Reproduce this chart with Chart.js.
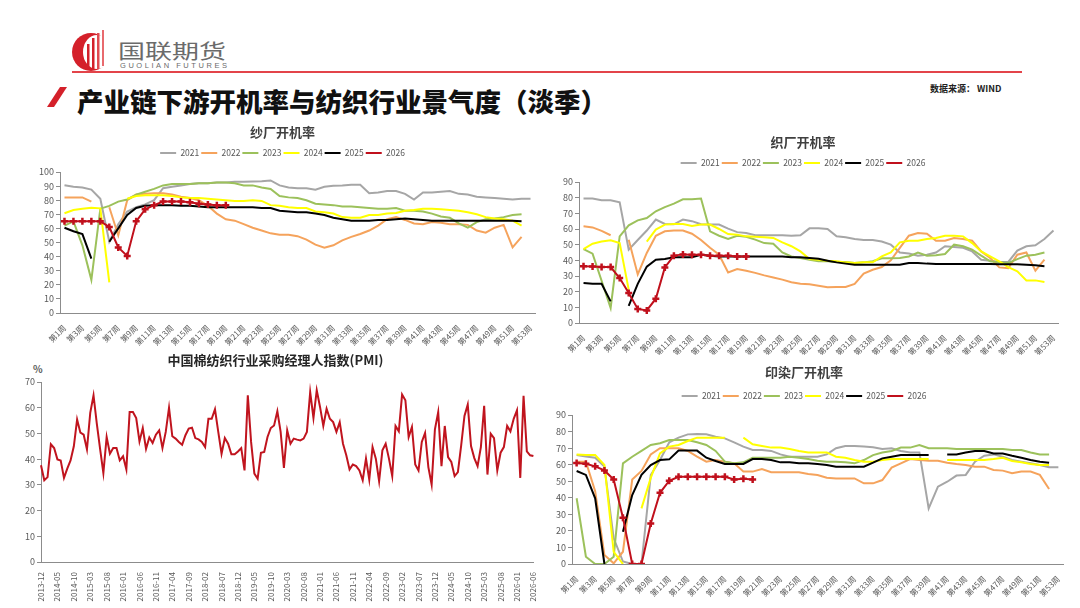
<!DOCTYPE html>
<html>
<head>
<meta charset="utf-8">
<script src="https://cdn.jsdelivr.net/npm/chart.js@4.4.1/dist/chart.umd.min.js"></script>
<style>
body { margin: 0; width: 1080px; height: 608px; background: #fff; position: relative; overflow: hidden;
       font-family: "Noto Sans CJK SC", sans-serif; }
.abs { position: absolute; }
canvas { position: absolute; }
#brand { left: 118px; top: 36px; font-size: 20px; color: #6b6b6b; transform: scaleX(1.35); transform-origin: left top; white-space: nowrap; }
#brandEn { left: 120px; top: 61px; font-size: 7.5px; color: #6b6b6b; letter-spacing: 2.55px; font-family: "Liberation Sans", sans-serif; white-space: nowrap; }
#rule { left: 72px; top: 71px; width: 950px; height: 1.5px; background: #e3444a; }
#title { left: 77px; top: 81px; font-size: 26.5px; font-weight: 900; color: #111; white-space: nowrap; }
#source { left: 930px; top: 82px; font-size: 9px; font-weight: bold; color: #222; white-space: nowrap; }
#pct { left: 33px; top: 361px; font-size: 10px; font-weight: bold; color: #595959; }
</style>
</head>
<body>
<svg class="abs" style="left:70px;top:30px" width="44" height="42" viewBox="0 0 44 42">
  <circle cx="21" cy="22" r="19" fill="#d4202a"/>
  <ellipse cx="27" cy="22" rx="14" ry="17" fill="#fff"/>
  <rect x="17" y="14" width="2.5" height="26" fill="#d4202a"/>
  <rect x="22" y="8" width="2.5" height="32" fill="#d4202a"/>
  <rect x="27" y="3" width="2.5" height="36" fill="#e04a50"/>
  <rect x="32" y="0" width="2" height="36" fill="#e86a6e"/>
</svg>
<div id="brand" class="abs">国联期货</div>
<div id="brandEn" class="abs">GUOLIAN FUTURES</div>
<div id="rule" class="abs"></div>
<svg class="abs" style="left:44px;top:86px" width="26" height="24" viewBox="0 0 26 24">
  <polygon points="16,1 23,1 10,21 3,21" fill="#d4202a"/>
</svg>
<div id="title" class="abs">产业链下游开机率与纺织行业景气度（淡季）</div>
<div id="source" class="abs">数据来源： WIND</div>
<div id="pct" class="abs">%</div>

<canvas id="c1" width="515" height="230" style="left:30px;top:118px"></canvas>
<canvas id="c2" width="520" height="227" style="left:548px;top:128px"></canvas>
<canvas id="c3" width="530" height="256" style="left:15px;top:348px"></canvas>
<canvas id="c4" width="525" height="244" style="left:545px;top:358px"></canvas>

<script>
// 纱厂开机率
var sha2021 = [90.6, 89.5, 89, 87.5, 81, 50.6, 63, 72, 75, 77, 80, 88.5, 89.5, 90.5, 91.5, 92, 92, 92.5, 92.5, 93,
    93, 93.3, 93.5, 94, 90.5, 89, 88.5, 88.5, 87.5, 89.5, 90.3, 90.5, 91, 91, 85, 85.5, 86.5, 86.5, 84.5, 80.5,
    85.5, 85.5, 86, 86.5, 84.5, 84, 82.5, 82, 81.5, 81, 80.5, 81, 81];
var sha2022 = [82, 82, 82, 79, null, 75, 55, 80, 84, 84.5, 85, 85, 84, 82.5, 81.5, 80, 76, 70.5, 66.5, 65.5,
    63, 60.5, 58.5, 56.5, 55.5, 55.5, 54.5, 52, 48.5, 46.3, 48, 51.5, 54, 56, 58.5, 62, 66.5, 68, 66, 63.5,
    63, 64.5, 64, 63, 63, 62.5, 58.5, 57, 60.5, 62.5, 46.5, 54, null];
var sha2023 = [62, 65, 48, 23.5, 74, 76, 79, 80.5, 84, 86, 88, 90.5, 91.5, 91.5, 91.5, 92, 92, 92.5, 92.5, 92,
    90.5, 90.5, 89, 88, 83, 82, 81.5, 80, 77.5, 77, 76.5, 75.5, 75.5, 75, 74.5, 74, 74, 74.5, 72.5, 72.5,
    72, 70.5, 68.5, 67.5, 63.5, 60.5, 64.5, 66.5, 67, 68, 69.5, 70, null];
var sha2024 = [70.7, 73, 74, 74.7, 74.2, 21.7, null, 81, 83, 83.5, 83.5, 83.5, 83, 82, 81.5, 81.5, 81, 80.5, 80, 79.5,
    79.5, 80, 79.5, 76.5, 76, 75, 74.5, 74.5, 72, 71.5, 70.5, 68, 67.5, 67.5, 69.5, 69.5, 70.5, 71, 72.5, 73,
    74, 74, 73.5, 73, 72.5, 71.5, 70, 68, 67, 66.5, 65.5, 62, null];
var sha2025 = [60.5, 58, 56, 38.5, null, 50.5, 60, 69.5, 74.5, 76, 76.5, 76.5, 76.5, 76, 76, 75.5, 75, 75, 75, 75,
    75, 75, 74.5, 74.5, 72.5, 72, 71.5, 71.5, 70.5, 69.5, 67.5, 66.5, 65.5, 65.5, 65.5, 66, 66, 66.5, 67, 66.5,
    66, 65.5, 65.5, 65.5, 65.5, 65.5, 65.5, 65.5, 65.5, 65.5, 65.5, 65, null];
var sha2026 = [65, 65, 65, 65, 65, 61, 46.5, 40.5, 65, 73.5, 76.5, 79, 79, 79, 78.5, 77.5, 77, 76.5, 76.5];

// 织厂开机率
var zhi2021 = [79.4, 79.4, 78.3, 78.3, 77, 46.8, 53, 59, 66, 63.2, 63, 66, 65, 63, 62.8, 62.8, 60.2, 58, 57.4, 56,
    56, 56, 56, 55.7, 56, 60.4, 60.4, 60, 55.3, 54.7, 53.6, 53, 53, 52, 50, 45, 44.3, 43, 43.6, 45,
    49, 48.5, 48, 45.7, 40.4, 39.8, 39, 39, 46.2, 49, 49.6, 53.6, 59];
var zhi2022 = [61.7, 61, 58.8, 56, null, 53.2, 31, 44.7, 55.7, 58.5, 59, 59, 57, 53, 48, 43.6, 32.3, 34.5, 33.4, 32,
    30.4, 29, 27.7, 26, 25, 24.7, 23.8, 22.8, 23, 23, 25, 31.5, 34, 35.7, 40, 48, 55.7, 57.4, 57, 52.5,
    52.5, 54.3, 53.6, 52.5, 45.7, 41.5, 35.5, 35, 43.6, 45, 33.4, 40.4, null];
var zhi2023 = [47.2, 44.3, 27, 9.6, 55.3, 62.3, 65.5, 67, 71.3, 74, 76.2, 79, 79, 79.4, 58.5, 55.7, 53.6, 55.7, 55, 53.2,
    51, 50.6, 45, 42.5, 41.5, 40.4, 39.4, 39.4, 39, 39, 38.3, 38.7, 39.4, 41.3, 41.3, 41.5, 42.5, 45, 43, 43.2,
    44, 50, 49, 46.8, 43, 39.4, 38.7, 38.3, 40.8, 43, 43.6, 45, null];
var zhi2024 = [47.2, 50.6, 52, 52.8, 51, 21.3, null, 52, 59.6, 62.8, 63.2, 63.2, 62, 62.8, 62.8, 60, 56.8, 56.4, 55.3, 55,
    54.7, 54.3, 51.5, 49, 45.7, 40.8, 40.4, 39.8, 39.4, 38.7, 38.3, 38.7, 38.7, 42.5, 45, 51.5, 52.5, 52.5, 53.6, 54.3,
    55.7, 55.7, 55.3, 51, 45.7, 42.5, 39.4, 35.7, 33, 27.2, 27.2, 26.2, null];
var zhi2025 = [25.5, 25, 25, 13.8, null, 11, 25, 36, 40.4, 40.8, 42, 42, 42, 43.6, 43, 42.5, 42.5, 42.5, 42.5, 42.5,
    42.5, 42.5, 42.5, 42, 42, 41.5, 41, 39.8, 38.7, 37.9, 37.2, 37.2, 37.2, 37.2, 37.2, 37.2, 38.3, 38.3, 37.9, 37.7,
    37.7, 37.7, 37.7, 37.7, 37.7, 37.7, 37.5, 37.5, 37.5, 37.2, 36.8, 36.2, null];
var zhi2026 = [36.2, 36, 35.7, 35.7, 28.7, 19.1, 9, 8, 15.5, 35.5, 43, 43.8, 43.6, 43.6, 43, 43, 43, 42.5, 42.5];

// 印染厂开机率
var ran2021 = [65.8, 65, 64.2, 58.8, 15.5, 1.5, 0, 0, 53.7, 62.8, 73.5, 76.3, 78.3, 78.5, 78.3, 76.9, 75.9, 73.5, 70.9, 68.9,
    68.9, 68.3, 66.2, 64.8, 64.8, 64.8, 64.8, 66.2, 69.9, 71.3, 71.3, 70.9, 70.5, 69.5, 69.9, 68.3, 67.4, 67.4, 33.6, 46.7,
    49.7, 53.4, 53.8, 61.8, 65.4, 66.2, 64.8, 62.8, 61.8, 60.8, 59.8, 58.4, 58.4];
var ran2022 = [61.8, 61.8, 44, 5.4, 0.4, 7.4, 51, 56.2, 66.2, 69.9, 69.9, 69.9, 68.3, 64.8, 61.8, 62.8, 61.8, 60.8, 55.8, 55.8,
    57.4, 55.4, 55.4, 55.4, 55.4, 54.4, 53.8, 52.1, 51.7, 51.7, 51.7, 48.7, 48.7, 50.7, 58.2, 60.8, 63.4, 62.8, 62.4, 62.4,
    61.2, 60.4, 59.8, 58.8, 58.8, 56.8, 56.4, 54.8, 55.8, 55.8, 53.8, 45.3, null];
var ran2023 = [39.7, 4.4, 0, 0, 4.4, 60.8, 64.8, 68.3, 71.9, 72.9, 74.9, 74.9, 74.9, 73.5, 71.9, 68.3, 61.8, 60.8, 61.4, 64.2,
    64.2, 64.2, 64.2, 64.8, 64.2, 63.4, 62.4, 61.8, 61.8, 61.4, 60.8, 62.8, 65.8, 67.4, 68.3, 70.3, 70.3, 71.9, 69.9, 69.9,
    69.9, 69.5, 69.5, 69.5, 69.5, 69.5, 69.5, 68.9, 68.9, 67.4, 66.2, 66.2, null];
var ran2024 = [66.2, 65.8, 65.8, 59.8, 7.4, 0, null, 33.6, 52, 66.8, 70.9, 71.9, 74.3, 76.3, 76.3, 76.3, 76.3, null, 76.3, 72.3,
    71.3, 70.3, 70.3, 69.5, 68.3, 67.4, 67.4, 67.4, 64.8, 64.2, 62.8, 61.8, 61.8, 62.8, 63.4, 63.4, 63.4, 63.4, 63.4, null,
    62.8, 62.8, 62.8, 62.8, 62.8, 63.4, 64.2, 62.2, 61.4, 60.4, 59.8, 59.8, null];
var ran2025 = [56.2, 53.8, 39.7, 0, null, 19.5, 41.7, 53.8, 59.8, 62.8, 63.2, 68.5, 68.5, 68.5, 64.2, 62.2, 60.4, 60.4, 60.4, 63.4,
    63.4, 62.8, 61.4, 61.4, 60.8, 60.8, 60.4, 59.8, 58.8, 58.8, 58.8, 58.8, 61.2, 63.8, 64.8, 65.8, 65.8, 65.8, 65.8, null,
    66.2, 66.2, 67.4, 68.3, 68.3, 66.8, 66.8, 65.4, 64.2, 62.8, 61.8, 61.2, null];
var ran2026 = [61, 60.5, 59, 56.5, 51, 28, 0, 0, 24.5, 43, 50.3, 52.7, 52.7, 52.7, 52.7, 52.7, 52.7, 51, 51.5, 51];

// 中国棉纺织行业PMI, 2013-12 起逐月
var pmi = [37.6, 31.8, 33, 45.8, 44.3, 39.9, 39.5, 32.7, 36.3, 39.5,
    45, 55.4, 50.3, 49.5, 43.8, 58, 64.8, 53.8, 44, 34.6,
    48.6, 42.1, 44.3, 44.3, 39.5, 41.1, 36, 58.3, 58.3, 56,
    46.9, 52.1, 44, 48.4, 46.3, 49.5, 51.2, 44.3, 50.6, 60,
    48.9, 48, 46.7, 45.6, 49.3, 51.9, 52.2, 48.2, 47.7, 46.7,
    44.7, 55.7, 55.7, 59.4, 50.6, 42.1, 48.2, 46, 41.9, 41.9,
    43, 44.3, 35.6, 64.8, 46.7, 34.4, 32.4, 42.5, 42.8, 48.6,
    52.1, 53.1, 58.6, 50.6, 36.6, 51.2, 46, 48, 47.6, 47.3,
    48, 50.6, 66.1, 56, 66.8, 60.3, 52.9, 59.6, 55.7, 54.4,
    50.6, 54.4, 46, 41.5, 36, 37.9, 37.3, 35.6, 31.8, 40.2,
    32, 44.7, 40.2, 31.4, 43.4, 46, 40.2, 33.4, 52.9, 50.8,
    65.1, 62.9, 48.6, 52.5, 37.9, 35.6, 46.7, 50.2, 36.9, 30.1,
    51.6, 58.3, 37.3, 52.9, 40.8, 38.9, 33.4, 35, 45.4, 56.8,
    61.2, 45.1, 40.4, 37.3, 44.7, 60.7, 34, 49.9, 48.2, 35.6,
    42.5, 44.7, 52.9, 50.8, 55.7, 59, 32.7, 64.6, 43, 41.5,
    41.2];

var years = ['2021', '2022', '2023', '2024', '2025', '2026'];
var yearColors = ['#a6a6a6', '#f5a35c', '#9cc15b', '#ffff00', '#000000', '#c0101c'];

var weeks = [];
for (var w = 1; w <= 53; w++) weeks.push('第' + w + '周');

var months = [];
var yy = 2013, mm = 12;
while (months.length < pmi.length) {
    months.push(yy + '-' + (mm < 10 ? '0' + mm : mm));
    mm++;
    if (mm > 12) { mm = 1; yy++; }
}

Chart.defaults.font.family = '"Noto Sans CJK SC", "Noto Sans", sans-serif';
Chart.defaults.color = '#595959';

var axisColor = '#8c8c8c';

function legendGap(extra) {
    return {
        id: 'legendGap',
        beforeInit: function (chart) {
            var fit = chart.legend.fit;
            chart.legend.fit = function () {
                fit.call(this);
                this.height += extra;
            };
        }
    };
}

function weekChart(id, title, series, yMax, g) {
    var datasets = series.map(function (data, i) {
        var red = i == 5;
        return {
            label: years[i],
            data: data,
            borderColor: yearColors[i],
            backgroundColor: yearColors[i],
            borderWidth: 2,
            pointRadius: red ? 3.5 : 0,
            pointStyle: 'cross',
            pointBorderWidth: 2.5,
            pointBackgroundColor: yearColors[i],
            // 2026 on top, then 2025 ...
            order: red ? 0 : 6 - i
        };
    });
    return new Chart(document.getElementById(id).getContext('2d'), {
        type: 'line',
        data: { labels: weeks, datasets: datasets },
        options: {
            responsive: false,
            animation: false,
            layout: { padding: { left: 0, right: g.padRight, top: 0, bottom: 0 } },
            plugins: {
                title: {
                    display: true, text: title, color: '#404040',
                    font: { size: 13, weight: 'bold' },
                    padding: { top: g.tTop, bottom: g.tBottom }
                },
                legend: {
                    display: true,
                    labels: {
                        boxWidth: 16, boxHeight: 0, padding: 2, font: { size: 8.5 }, color: '#595959',
                        sort: function (a, b) { return a.datasetIndex - b.datasetIndex; }
                    }
                },
                tooltip: { enabled: false }
            },
            scales: {
                x: {
                    offset: true,
                    grid: { display: false },
                    border: { color: axisColor },
                    ticks: {
                        autoSkip: false, minRotation: 45, maxRotation: 45, padding: 2,
                        font: { size: 8 },
                        callback: function (v, i) { return i % 2 == 0 ? this.getLabelForValue(v) : ''; }
                    },
                    afterFit: function (s) { s.height = g.xHeight; }
                },
                y: {
                    min: 0, max: yMax,
                    grid: { drawOnChartArea: false, tickLength: 4, color: axisColor },
                    border: { color: axisColor },
                    ticks: { stepSize: 10, font: { size: 9 }, padding: 2 },
                    afterFit: function (s) { s.width = g.yWidth; }
                }
            }
        },
        plugins: [legendGap(g.extra)]
    });
}

weekChart('c1', '纱厂开机率', [sha2021, sha2022, sha2023, sha2024, sha2025, sha2026], 100,
    { tTop: 6.2, tBottom: 6.95, extra: 4.75, yWidth: 30, padRight: 10, xHeight: 35 });
weekChart('c2', '织厂开机率', [zhi2021, zhi2022, zhi2023, zhi2024, zhi2025, zhi2026], 90,
    { tTop: 6.2, tBottom: 6.95, extra: 4.75, yWidth: 31, padRight: 10, xHeight: 32 });
weekChart('c4', '印染厂开机率', [ran2021, ran2022, ran2023, ran2024, ran2025, ran2026], 90,
    { tTop: 6.2, tBottom: 9.95, extra: 4.75, yWidth: 27, padRight: 7, xHeight: 38 });

new Chart(document.getElementById('c3').getContext('2d'), {
    type: 'line',
    data: {
        labels: months,
        datasets: [{
            label: 'PMI',
            data: pmi,
            borderColor: '#c0141e',
            borderWidth: 2,
            pointRadius: 0
        }]
    },
    options: {
        responsive: false,
        animation: false,
        layout: { padding: { left: 0, right: 9, top: 0, bottom: 0 } },
        plugins: {
            title: {
                display: true, text: '中国棉纺织行业采购经理人指数(PMI)', color: '#262626',
                font: { size: 13, weight: 'bold' },
                padding: { top: 4.2, bottom: 14.2 }
            },
            legend: { display: false },
            tooltip: { enabled: false }
        },
        scales: {
            x: {
                offset: false,
                grid: { display: false },
                border: { color: axisColor },
                ticks: {
                    autoSkip: false, minRotation: 90, maxRotation: 90, padding: 2,
                    font: { size: 8 },
                    callback: function (v, i) { return i % 5 == 0 ? this.getLabelForValue(v) : ''; }
                },
                afterFit: function (s) { s.height = 42; }
            },
            y: {
                min: 0, max: 70,
                grid: { drawOnChartArea: false, tickLength: 4, color: axisColor },
                border: { color: axisColor },
                ticks: { stepSize: 10, font: { size: 9 }, padding: 2 },
                afterFit: function (s) { s.width = 26; }
            }
        }
    }
});
</script>
</body>
</html>
